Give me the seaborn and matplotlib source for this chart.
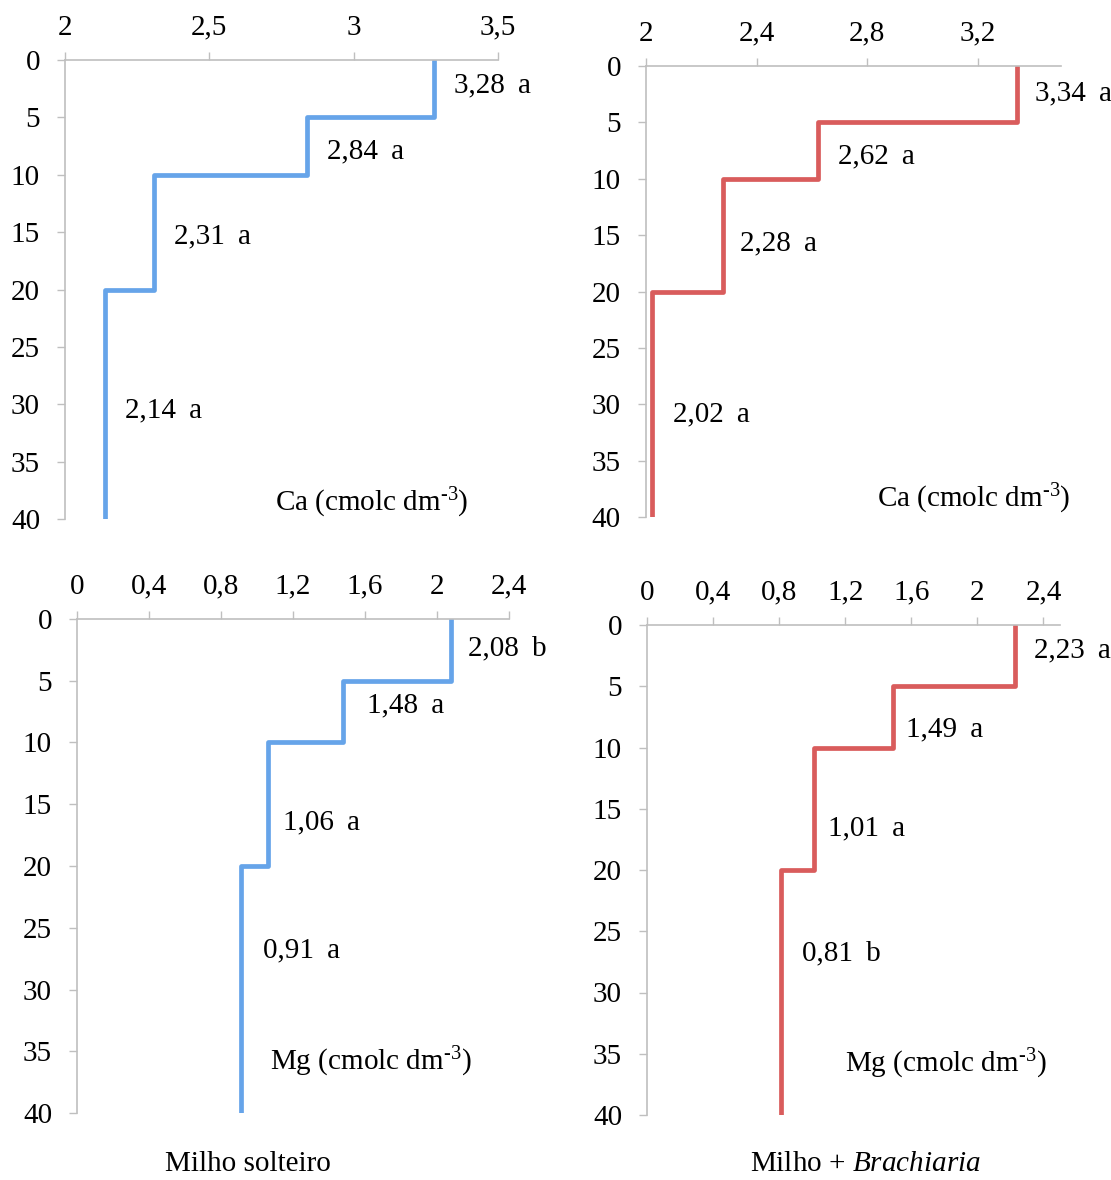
import matplotlib
matplotlib.use("Agg")
import matplotlib.pyplot as plt
from matplotlib.ticker import FuncFormatter, MultipleLocator
import seaborn as sns
import pandas as pd

# layer boundaries (cm)
depth_bounds = [0, 5, 10, 20, 40]

ca_solteiro = [3.28, 2.84, 2.31, 2.14]
ca_solteiro_letters = ["a", "a", "a", "a"]
ca_brachiaria = [3.34, 2.62, 2.28, 2.02]
ca_brachiaria_letters = ["a", "a", "a", "a"]
mg_solteiro = [2.08, 1.48, 1.06, 0.91]
mg_solteiro_letters = ["b", "a", "a", "a"]
mg_brachiaria = [2.23, 1.49, 1.01, 0.81]
mg_brachiaria_letters = ["a", "a", "a", "b"]

ca_label = "Ca (cmolc dm$^{\\text{-3}}$)"
mg_label = "Mg (cmolc dm$^{\\text{-3}}$)"
group_labels = ["Milho solteiro", "Milho + $\\it{Brachiaria}$"]

BLUE = "#66a4e9"
RED = "#d95c5c"
GRAY = "#bfbfbf"
W, H = 1111, 1180
FS = 21


def profile(values):
    # stepped depth profile: each value holds over its layer
    xs, ys = [], []
    for i, v in enumerate(values):
        xs += [v, v]
        ys += [depth_bounds[i], depth_bounds[i + 1]]
    return pd.DataFrame({"valor": xs, "prof": ys})


def box(x0, y0, x1, y1):
    return [x0 / W, 1 - y1 / H, (x1 - x0) / W, (y1 - y0) / H]


sns.set_style("white")
plt.rcParams["font.family"] = ["Liberation Serif", "DejaVu Serif"]
plt.rcParams["text.color"] = "black"
plt.rcParams["mathtext.fontset"] = "custom"
plt.rcParams["mathtext.rm"] = "Liberation Serif"
plt.rcParams["mathtext.it"] = "Liberation Serif:italic"

fig = plt.figure(figsize=(W / 100, H / 100), dpi=100)

panels = [
    dict(vals=ca_solteiro, letters=ca_solteiro_letters, color=BLUE, rect=box(65, 60, 498, 519),
         xlim=(2, 3.5), step=0.5, unit=ca_label, unit_pos=(0.485, 0.036),
         lab_depth=[2.2, 8.0, 15.4, 30.5], lab_dx=[20, 20, 20, 20]),
    dict(vals=ca_brachiaria, letters=ca_brachiaria_letters, color=RED, rect=box(646, 66, 1061, 517),
         xlim=(2, 3.5), step=0.4, unit=ca_label, unit_pos=(0.557, 0.040),
         lab_depth=[2.4, 8.0, 15.7, 30.9], lab_dx=[18, 20, 17, 21]),
    dict(vals=mg_solteiro, letters=mg_solteiro_letters, color=BLUE, rect=box(77, 619, 509, 1113),
         xlim=(0, 2.4), step=0.4, unit=mg_label, unit_pos=(0.447, 0.103),
         lab_depth=[2.4, 7.0, 16.5, 26.8], lab_dx=[17, 24, 15, 22]),
    dict(vals=mg_brachiaria, letters=mg_brachiaria_letters, color=RED, rect=box(647, 625, 1060, 1115),
         xlim=(0, 2.5), step=0.4, unit=mg_label, unit_pos=(0.479, 0.104),
         lab_depth=[2.1, 8.5, 16.6, 26.8], lab_dx=[19, 13, 14, 21]),
]

comma = FuncFormatter(lambda v, p: "{:g}".format(round(v, 2)).replace(".", ","))

for p in panels:
    ax = fig.add_axes(p["rect"])
    sns.lineplot(data=profile(p["vals"]), x="valor", y="prof", sort=False, estimator=None,
                 color=p["color"], linewidth=3.4, ax=ax)
    ax.set_xlim(*p["xlim"])
    ax.set_ylim(40, 0)
    ax.xaxis.set_major_locator(MultipleLocator(p["step"]))
    ax.yaxis.set_major_locator(MultipleLocator(5))
    ax.xaxis.set_major_formatter(comma)
    ax.xaxis.tick_top()
    ax.set_xlabel("")
    ax.set_ylabel("")
    for side in ["right", "bottom"]:
        ax.spines[side].set_visible(False)
    for side in ["left", "top"]:
        ax.spines[side].set_color(GRAY)
        ax.spines[side].set_linewidth(1.2)
    ax.tick_params(axis="both", direction="out", length=6, width=1.0, color=GRAY,
                   labelsize=FS, labelcolor="black")
    ax.tick_params(axis="x", top=True, bottom=False, pad=8)
    ax.tick_params(axis="y", left=True, pad=12)

    for v, d, letter, dx in zip(p["vals"], p["lab_depth"], p["letters"], p["lab_dx"]):
        ax.annotate("{:.2f}".format(v).replace(".", ",") + " \u2009" + letter,
                    xy=(v, d), xytext=(dx * 0.72, 0), textcoords="offset points",
                    ha="left", va="center", fontsize=FS, annotation_clip=False)
    ax.text(p["unit_pos"][0], p["unit_pos"][1], p["unit"], transform=ax.transAxes,
            ha="left", va="center", fontsize=FS)

fig.text(248 / W, 1 - 1164 / H, group_labels[0], ha="center", va="center", fontsize=FS)
fig.text(865 / W, 1 - 1164 / H, group_labels[1], ha="center", va="center", fontsize=FS)

fig.savefig("out.png", dpi=100)
